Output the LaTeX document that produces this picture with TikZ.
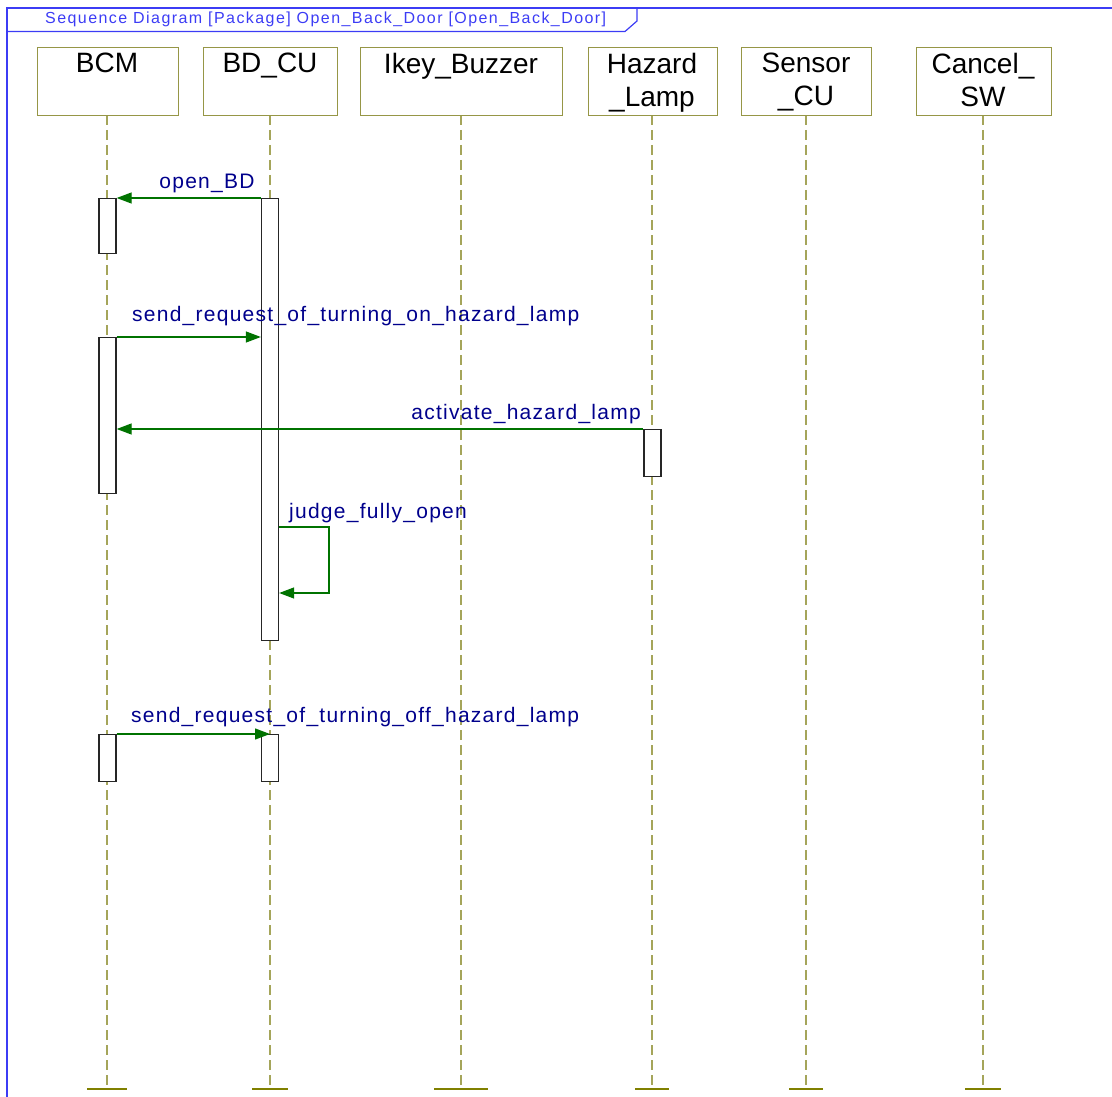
\documentclass[tikz,border=0pt]{standalone}
\usepackage{fontspec}
\setmainfont{Liberation Sans}
\newfontfamily\lblfont[LetterSpace=6]{Liberation Sans}
\newfontfamily\ttlfont[LetterSpace=9]{Liberation Sans}
\usetikzlibrary{arrows.meta}
\definecolor{frameblue}{RGB}{60,60,245}
\definecolor{labelblue}{RGB}{0,0,140}
\definecolor{msggreen}{RGB}{0,115,0}
\definecolor{boxolive}{RGB}{150,150,70}
\definecolor{lineolive}{RGB}{165,165,90}
\definecolor{tickolive}{RGB}{128,128,0}
\tikzset{
  headbox/.style={draw=boxolive, line width=1.3pt, fill=white, anchor=north west, inner sep=0pt},
  headtext/.style={anchor=north, inner sep=0pt, align=center, font=\fontsize{28}{33}\selectfont},
  lifeline/.style={draw=lineolive, line width=1.2pt, dash pattern=on 10pt off 5pt},
  endtick/.style={draw=tickolive, line width=2pt},
  actbar/.style={draw=black!85, line width=1.3pt, fill=white, minimum width=17pt, inner sep=0pt, anchor=north},
  msg/.style={draw=msggreen, line width=1.3pt, -{Triangle[length=15pt,width=11pt]}},
  msglabel/.style={text=labelblue, inner sep=0pt, font=\lblfont\fontsize{21}{24}\selectfont},
}
\begin{document}
\begin{tikzpicture}[x=1pt,y=-1pt]
\useasboundingbox (0,0) rectangle (1112,1097);
% frame
\draw[frameblue, line width=1.5pt] (1112,8) -- (7,8) -- (7,1097);
\draw[frameblue, line width=1.2pt] (7,31.5) -- (625,31.5) -- (637,21) -- (637,8);
\node[anchor=base west, inner sep=0pt, text=frameblue, font=\ttlfont\fontsize{16}{18}\selectfont] (title) at (45,24) {Sequence Diagram [Package] Open\_Back\_Door [Open\_Back\_Door]};

% lifelines
\foreach \n/\x/\w in {bcm/107/20, bdcu/270/18, ikey/461/27, hazard/652/17, sensor/806/17, cancel/983/18}{
  \coordinate (\n top) at (\x,115);
  \coordinate (\n bot) at (\x,1089);
  \draw[lifeline] (\n top) -- (\n bot);
  \draw[endtick] ([xshift=-\w pt]\n bot) -- ([xshift=\w pt]\n bot);
}

% header boxes
\node[headbox, minimum width=141pt, minimum height=68pt] (bcm) at (37,47) {};
\node[headbox, minimum width=134pt, minimum height=68pt] (bdcu) at (203,47) {};
\node[headbox, minimum width=202pt, minimum height=68pt] (ikey) at (360,47) {};
\node[headbox, minimum width=129pt, minimum height=68pt] (hazard) at (588,47) {};
\node[headbox, minimum width=130pt, minimum height=68pt] (sensor) at (741,47) {};
\node[headbox, minimum width=135pt, minimum height=68pt] (cancel) at (916,47) {};
\node[headtext] (bcmT) at (107,53) {BCM};
\node[headtext] (bdcuT) at (270,53) {BD\_CU};
\node[headtext] (ikeyT) at (461,53) {Ikey\_Buzzer};
\node[headtext] (hazardT) at (652,53) {Hazard\\\_Lamp};
\node[headtext] (sensorT) at (806,53) {Sensor\\\_CU};
\node[headtext] (cancelT) at (983,53) {Cancel\_\\SW};

% activation bars
\node[actbar, minimum height=442pt] (bdbar1) at (270,198) {};
\node[actbar, minimum height=55pt] (bcmbar1) at (107.5,198) {};
\node[actbar, minimum height=156pt] (bcmbar2) at (107.5,337) {};
\node[actbar, minimum height=47pt] (hzbar) at (652.5,429) {};
\node[actbar, minimum height=47pt] (bcmbar3) at (107.5,734) {};
\node[actbar, minimum height=47pt] (bdbar2) at (270,734) {};

% messages
\draw[msg] (bdbar1.north west) -- (bcmbar1.north east);
\node[msglabel, anchor=base] (l1) at (207,189) {open\_BD};

\draw[msg] (bcmbar2.north east) -- (bdbar1.west |- bcmbar2.north);
\node[msglabel, anchor=base west] (l2) at (132,321) {send\_request\_of\_turning\_on\_hazard\_lamp};

\draw[msg] (hzbar.north west) -- (bcmbar2.east |- hzbar.north);
\node[msglabel, anchor=base east] (l3) at (641,419) {activate\_hazard\_lamp};

\coordinate (selfA) at (329,527);
\coordinate (selfB) at (329,593);
\draw[msg] (bdbar1.east |- selfA) -- (selfA) -- (selfB) -- (bdbar1.east |- selfB);
\node[msglabel, anchor=base west] (l4) at (289,518) {judge\_fully\_open};

\draw[msg] (bcmbar3.north east) -- (bdbar2.north);
\node[msglabel, anchor=base west] (l5) at (131,722) {send\_request\_of\_turning\_off\_hazard\_lamp};
\end{tikzpicture}
\end{document}
